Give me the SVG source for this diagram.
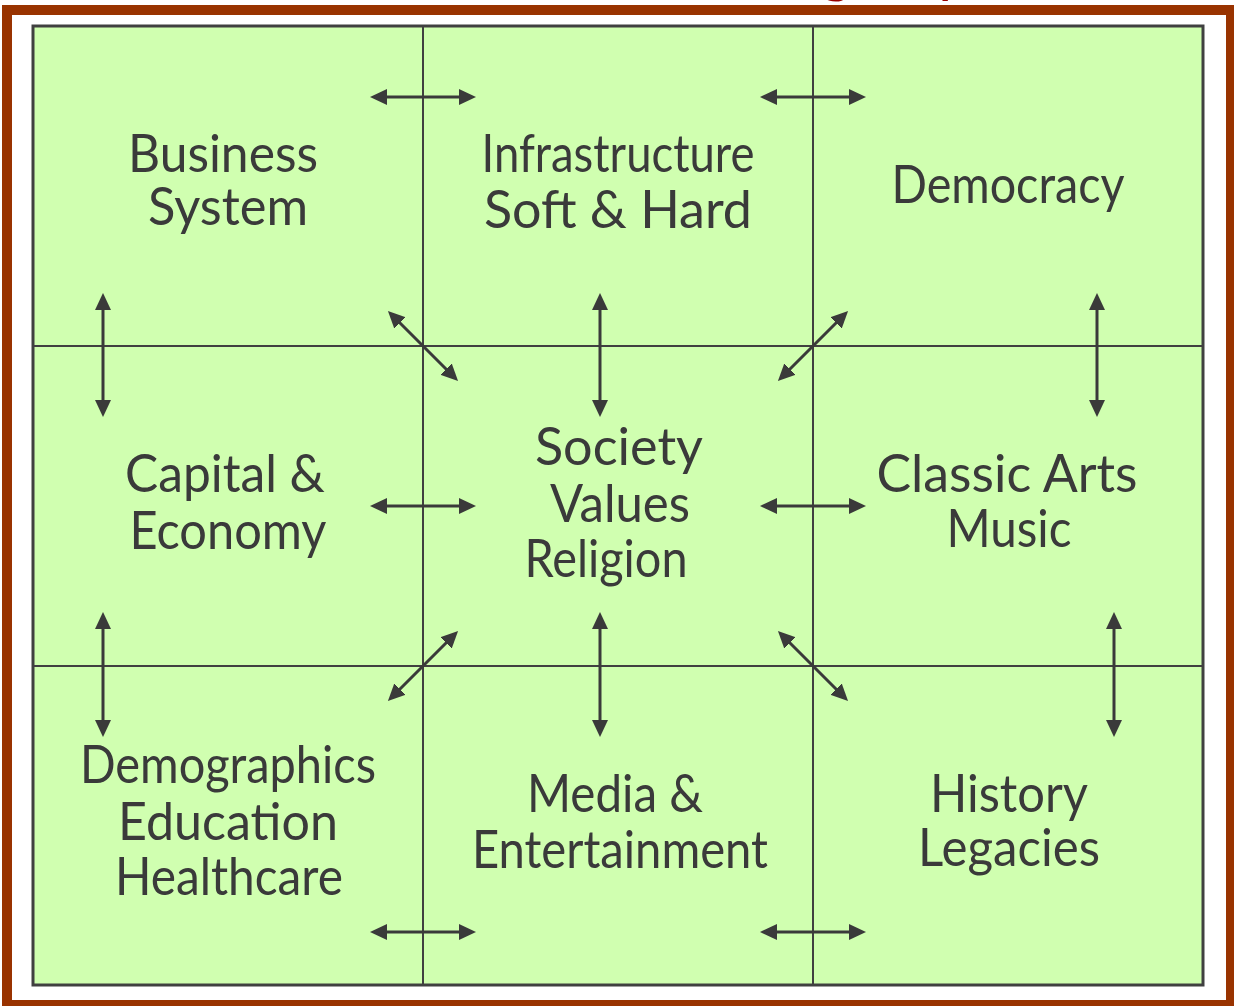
<svg xmlns="http://www.w3.org/2000/svg" width="1234" height="1006" viewBox="0 0 1234 1006">
  <defs>
    <style>
      .frame { fill: #ffffff; stroke: #993300; stroke-width: 10; }
      .board { fill: #d0ffb0; stroke: #404040; stroke-width: 3; }
      .grid { stroke: #404040; stroke-width: 2; fill: none; }
      .link { stroke: #3a3a3a; stroke-width: 3; fill: none; marker-start: url(#head); marker-end: url(#head); }
      .label { font-family: "Lato", "Liberation Sans", sans-serif; font-size: 52px; fill: #3a3a3a; text-anchor: middle; }
      .title { font-family: "Lato", "Liberation Sans", sans-serif; font-size: 60px; fill: #990000; text-anchor: middle; }
    </style>
    <marker id="head" viewBox="0 0 17 16" markerUnits="userSpaceOnUse" markerWidth="17" markerHeight="16" refX="7" refY="8" orient="auto-start-reverse">
      <path d="M0,0 L17,8 L0,16 z" fill="#3a3a3a"/>
    </marker>
  </defs>

  <!-- page frame and title remnants -->
  <rect class="frame" x="7" y="10" width="1224" height="995"/>
  <text class="title" x="836" y="-9">g</text>
  <text class="title" x="955" y="-9">p</text>

  <!-- board and cell divisions -->
  <rect class="board" x="33" y="26" width="1170" height="959"/>
  <g id="grid-lines" class="grid">
    <line x1="423" y1="26" x2="423" y2="985"/>
    <line x1="813" y1="26" x2="813" y2="985"/>
    <line x1="33" y1="346" x2="1203" y2="346"/>
    <line x1="33" y1="666" x2="1203" y2="666"/>
  </g>

  <!-- nodes -->
  <g id="business-system">
    <text class="label" x="223" y="172" textLength="190" lengthAdjust="spacingAndGlyphs">Business</text>
    <text class="label" x="228" y="225" textLength="160" lengthAdjust="spacingAndGlyphs">System</text>
  </g>
  <g id="infrastructure">
    <text class="label" x="618" y="172" textLength="273" lengthAdjust="spacingAndGlyphs">Infrastructure</text>
    <text class="label" x="618" y="228" textLength="268" lengthAdjust="spacingAndGlyphs">Soft &amp; Hard</text>
  </g>
  <g id="democracy">
    <text class="label" x="1008" y="203" textLength="233" lengthAdjust="spacingAndGlyphs">Democracy</text>
  </g>
  <g id="capital-economy">
    <text class="label" x="225" y="492" textLength="200" lengthAdjust="spacingAndGlyphs">Capital &amp;</text>
    <text class="label" x="228" y="549" textLength="197" lengthAdjust="spacingAndGlyphs">Economy</text>
  </g>
  <g id="society-values-religion">
    <text class="label" x="619" y="465" textLength="168" lengthAdjust="spacingAndGlyphs">Society</text>
    <text class="label" x="620" y="522" textLength="140" lengthAdjust="spacingAndGlyphs">Values</text>
    <text class="label" x="606" y="577" textLength="163" lengthAdjust="spacingAndGlyphs">Religion</text>
  </g>
  <g id="arts-music">
    <text class="label" x="1007" y="492" textLength="261" lengthAdjust="spacingAndGlyphs">Classic Arts</text>
    <text class="label" x="1009" y="547" textLength="125" lengthAdjust="spacingAndGlyphs">Music</text>
  </g>
  <g id="demographics">
    <text class="label" x="228" y="783" textLength="296" lengthAdjust="spacingAndGlyphs">Demographics</text>
    <text class="label" x="228" y="840" textLength="220" lengthAdjust="spacingAndGlyphs">Education</text>
    <text class="label" x="229" y="895" textLength="228" lengthAdjust="spacingAndGlyphs">Healthcare</text>
  </g>
  <g id="media-entertainment">
    <text class="label" x="615" y="812" textLength="176" lengthAdjust="spacingAndGlyphs">Media &amp;</text>
    <text class="label" x="620" y="868" textLength="296" lengthAdjust="spacingAndGlyphs">Entertainment</text>
  </g>
  <g id="history-legacies">
    <text class="label" x="1009" y="812" textLength="158" lengthAdjust="spacingAndGlyphs">History</text>
    <text class="label" x="1009" y="866" textLength="182" lengthAdjust="spacingAndGlyphs">Legacies</text>
  </g>

  <!-- connectors: double-headed arrows across cell borders -->
  <g id="connectors">
    <line class="link" x1="380" y1="97" x2="466" y2="97"/>
    <line class="link" x1="770" y1="97" x2="856" y2="97"/>
    <line class="link" x1="380" y1="506" x2="466" y2="506"/>
    <line class="link" x1="770" y1="506" x2="856" y2="506"/>
    <line class="link" x1="380" y1="932" x2="466" y2="932"/>
    <line class="link" x1="770" y1="932" x2="856" y2="932"/>

    <line class="link" x1="103" y1="303" x2="103" y2="407"/>
    <line class="link" x1="600" y1="303" x2="600" y2="407"/>
    <line class="link" x1="1097" y1="303" x2="1097" y2="407"/>
    <line class="link" x1="103" y1="622" x2="103" y2="727"/>
    <line class="link" x1="600" y1="622" x2="600" y2="727"/>
    <line class="link" x1="1114" y1="622" x2="1114" y2="727"/>

    <line class="link" x1="395" y1="318" x2="451" y2="374"/>
    <line class="link" x1="841" y1="318" x2="785" y2="374"/>
    <line class="link" x1="451" y1="638" x2="395" y2="694"/>
    <line class="link" x1="785" y1="638" x2="841" y2="694"/>
  </g>
</svg>
